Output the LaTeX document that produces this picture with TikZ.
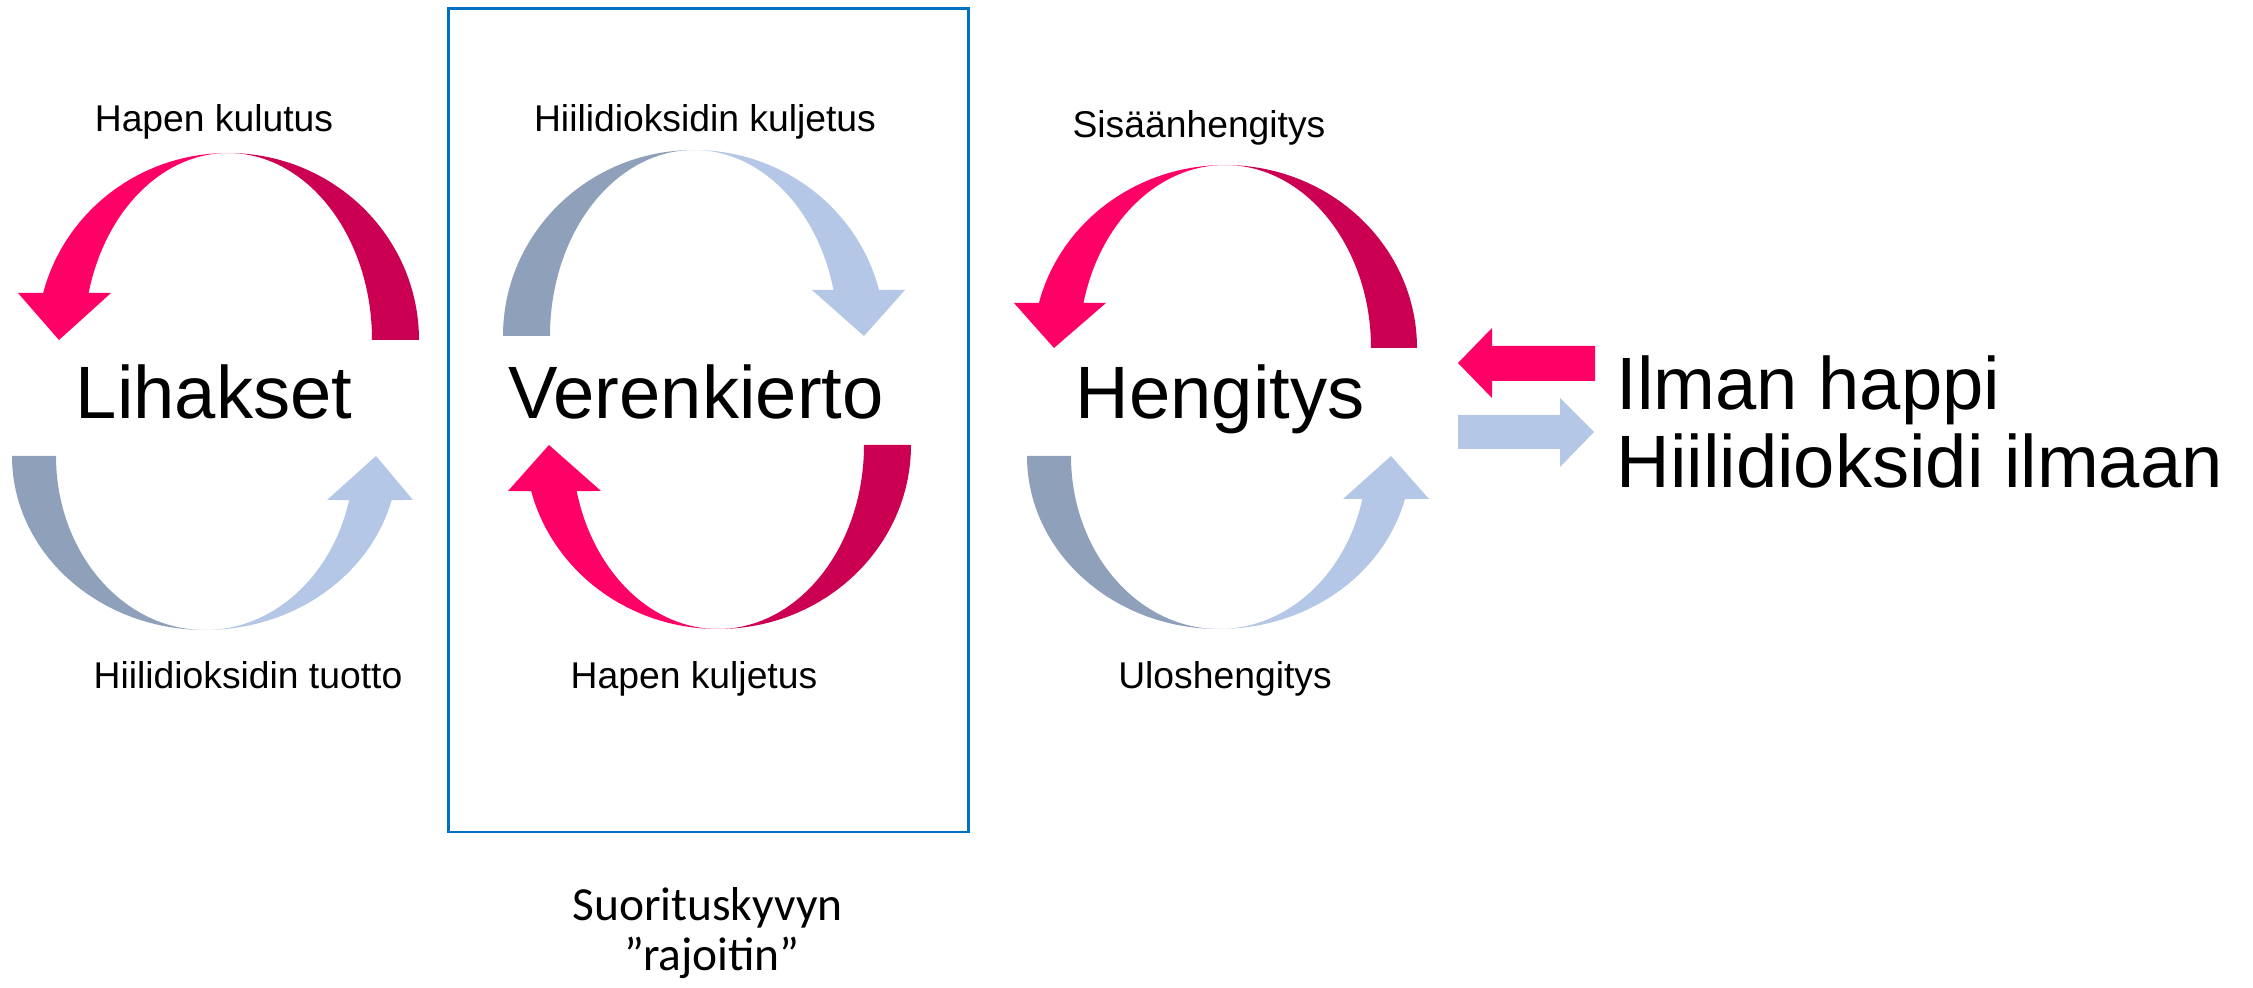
\documentclass[tikz,border=0pt]{standalone}
\usepackage{fontspec}
\setmainfont{Liberation Sans}
\newfontfamily\calibrifont{Carlito}
\definecolor{pinkA}{HTML}{FF0066}
\definecolor{pinkB}{HTML}{CC0052}
\definecolor{blueA}{HTML}{8FA0BB}
\definecolor{blueB}{HTML}{B4C7E7}
\definecolor{boxblue}{HTML}{0070C0}
\newcommand\crescent[8]{%
 \fill[#1] ({#2+#4*cos(#7)},{#3+#6*sin(#7)}) arc[start angle=#7,end angle=#8,x radius=#4,y radius=#6] -- ({#2+#5*cos(#8)},{#3+#6*sin(#8)}) arc[start angle=#8,end angle=#7,x radius=#5,y radius=#6] -- cycle;}
\newcommand\headcrescent[9]{%
 \fill[#1] ({#2+#4*cos(#7)},{#3+#6*sin(#7)}) arc[start angle=#7,end angle=#8,x radius=#4,y radius=#6] -- #9 -- ({#2+#5*cos(#8)},{#3+#6*sin(#8)}) arc[start angle=#8,end angle=#7,x radius=#5,y radius=#6] -- cycle;}
\tikzset{
 bigtxt/.style={inner sep=0pt, anchor=base, font=\fontsize{21.1}{25}\selectfont},
 smalltxt/.style={inner sep=0pt, anchor=base, font=\fontsize{10.6}{13}\selectfont},
 calitxt/.style={inner sep=0pt, anchor=base, font=\calibrifont\fontsize{13.5}{16}\selectfont},
 boxline/.style={draw=boxblue, line width=0.85pt}
}
\begin{document}
\begin{tikzpicture}[x=0.01cm,y=0.01cm]
\useasboundingbox (0,0) rectangle (2253,987);
% box
\draw[boxline] (448.5,155) rectangle (968.5,978.7);
% cycle 1
\crescent{pinkB}{228}{647}{191}{144}{187}{90}{0}
\headcrescent{pinkA}{228}{647}{191}{144}{187}{90}{165.44}{(18,694) -- (59,647) -- (111,694)}
\crescent{blueA}{205}{531}{193}{149}{174}{270}{180}
\headcrescent{blueB}{205}{531}{193}{149}{174}{270}{345.35}{(413,487) -- (376,531) -- (327,487)}
% cycle 2
\crescent{blueA}{694}{651}{191}{144}{186}{90}{180}
\headcrescent{blueB}{694}{651}{191}{144}{186}{90}{14.32}{(905,697) -- (864,651) -- (812,697)}
\crescent{pinkB}{718}{542}{193}{146}{184}{270}{360}
\headcrescent{pinkA}{718}{542}{193}{146}{184}{270}{194.48}{(508,496) -- (549,542) -- (601,496)}
% cycle 3
\crescent{pinkB}{1225}{639}{192}{146}{183}{90}{0}
\headcrescent{pinkA}{1225}{639}{192}{146}{183}{90}{165.76}{(1014,684) -- (1054,639) -- (1106,684)}
\crescent{blueA}{1219}{531}{192}{148}{173}{270}{180}
\headcrescent{blueB}{1219}{531}{192}{148}{173}{270}{345.61}{(1429,488) -- (1391,531) -- (1343,488)}
% side arrows
\fill[pinkA] (1458,624) -- (1492,659) -- (1492,641) -- (1595,641) -- (1595,606) -- (1492,606) -- (1492,589) -- cycle;
\fill[blueB] (1458,572) -- (1560,572) -- (1560,589) -- (1594,555) -- (1560,520) -- (1560,538) -- (1458,538) -- cycle;
% labels
\node[smalltxt] (hk) at (214,855.3) {Hapen kulutus};
\node[smalltxt] (hkj) at (705,855.3) {Hiilidioksidin kuljetus};
\node[smalltxt] (sis) at (1199,849) {Sisäänhengitys};
\node[bigtxt] (lih) at (214,568) {Lihakset};
\node[bigtxt] (ver) at (696,568) {Verenkierto};
\node[bigtxt] (hen) at (1220,568) {Hengitys};
\node[smalltxt] (ht) at (248,299) {Hiilidioksidin tuotto};
\node[smalltxt] (hkl) at (694,299) {Hapen kuljetus};
\node[smalltxt] (ulo) at (1225,299) {Uloshengitys};
\node[bigtxt, anchor=base west] (ilm) at (1616,577.7) {Ilman happi};
\node[bigtxt, anchor=base west] (hii) at (1616,499) {Hiilidioksidi ilmaan};
\node[calitxt] (suo) at (707.5,67) {Suorituskyvyn};
\node[calitxt] (raj) at (712,17) {”rajoitin”};
\end{tikzpicture}
\end{document}
